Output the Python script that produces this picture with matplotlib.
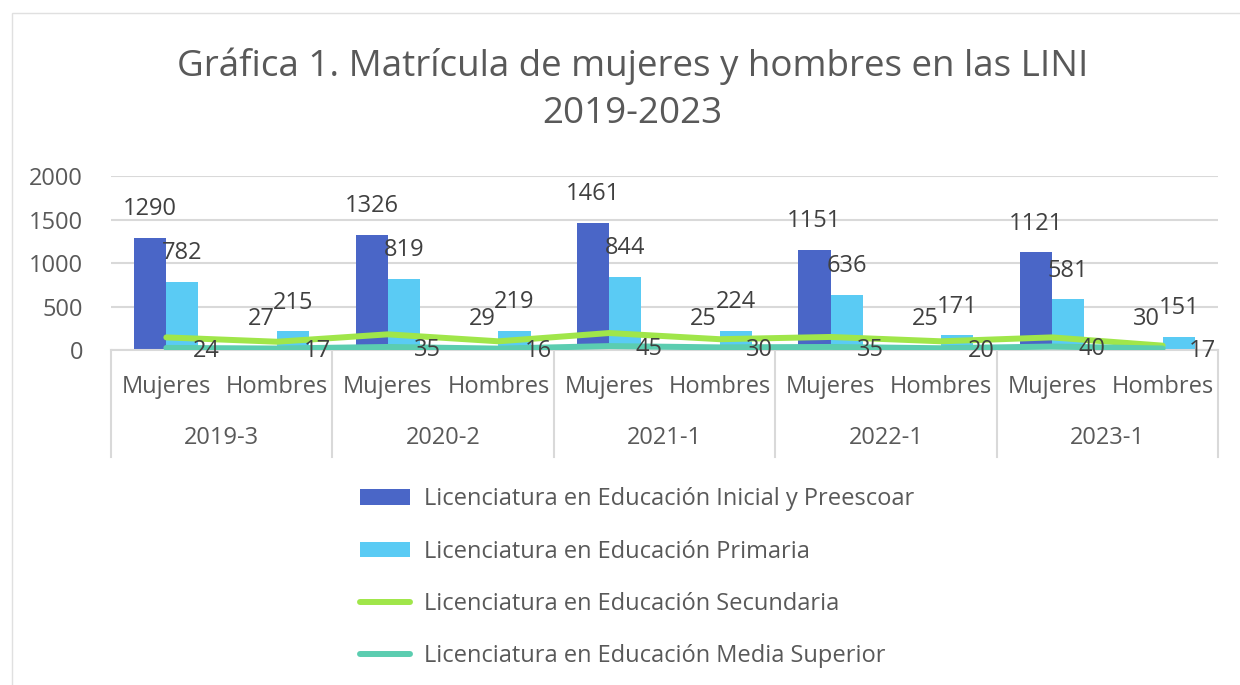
import matplotlib.pyplot as plt
import matplotlib as mpl
import numpy as np
from matplotlib.lines import Line2D
from matplotlib.patches import Rectangle

mpl.rcParams.update({"font.family": ["Open Sans", "DejaVu Sans"]})

# data
periodos = ["2019-3", "2020-2", "2021-1", "2022-1", "2023-1"]
sexos = ["Mujeres", "Hombres"]
inicial = [1290, 27, 1326, 29, 1461, 25, 1151, 25, 1121, 30]
primaria = [782, 215, 819, 219, 844, 224, 636, 171, 581, 151]
secundaria = [145, 95, 180, 100, 195, 124, 150, 100, 145, 50]
media_sup = [24, 17, 35, 16, 45, 30, 35, 20, 40, 17]
series_names = ["Licenciatura en Educación Inicial y Preescoar",
                "Licenciatura en Educación Primaria",
                "Licenciatura en Educación Secundaria",
                "Licenciatura en Educación Media Superior"]

C_INI = "#4A66C7"
C_PRI = "#5ACBF4"
C_SEC = "#A0E64A"
C_MED = "#5BCDB0"
TXT = "#595959"
LBL = "#404040"
GRID = "#D9D9D9"
FS = 17

W, H = 1240, 685
fig = plt.figure(figsize=(W / 100, H / 100), dpi=100)

# chart-area border
fig.patches.append(Rectangle((12 / W, -0.01), 1.02, 1 - 13 / H + 0.01, transform=fig.transFigure,
                             fill=False, ec="#E0E0E0", lw=1))

ax = fig.add_axes([111 / W, 1 - 350 / H, (1218 - 111) / W, (350 - 176) / H])
x = np.arange(len(inicial))
bw = 0.29
b1 = ax.bar(x - bw / 2, inicial, bw, color=C_INI, zorder=2)
b2 = ax.bar(x + bw / 2, primaria, bw, color=C_PRI, zorder=2)
l1, = ax.plot(x, secundaria, color=C_SEC, lw=4.3, solid_capstyle="round", solid_joinstyle="round",
              zorder=3)
l2, = ax.plot(x, media_sup, color=C_MED, lw=4.3, solid_capstyle="round", solid_joinstyle="round",
              zorder=3)

for xi, v in zip(x, inicial):
    ax.annotate(str(v), (xi - bw / 2, v), xytext=(0, 20.5), textcoords="offset points",
                ha="center", va="center", fontsize=FS, color=LBL, zorder=5)
for xi, v in zip(x, primaria):
    ax.annotate(str(v), (xi + bw / 2, v), xytext=(0, 20.5), textcoords="offset points",
                ha="center", va="center", fontsize=FS, color=LBL, zorder=5)
for xi, v in zip(x, media_sup):
    ax.annotate(str(v), (xi, v), xytext=(19, -2), textcoords="offset points",
                ha="left", va="center", fontsize=FS, color=LBL, zorder=5)

ax.set_xlim(-0.5, len(x) - 0.5)
ax.set_ylim(0, 2000)
ax.set_yticks([0, 500, 1000, 1500, 2000])
ax.tick_params(axis="y", length=0, labelsize=FS, labelcolor=TXT, pad=20)
ax.set_xticks([])
ax.grid(axis="y", color=GRID, lw=1.5, zorder=0)
for s in ["top", "right", "left"]:
    ax.spines[s].set_visible(False)
ax.spines["bottom"].set_color(GRID)
ax.spines["bottom"].set_linewidth(1.5)

# multi-level category axis
tr = ax.get_xaxis_transform()
for i, xi in enumerate(x):
    ax.text(xi, -0.213, sexos[i % 2], transform=tr, ha="center", va="center",
            fontsize=FS, color=TXT)
for j, p in enumerate(periodos):
    ax.text(2 * j + 0.5, -0.506, p, transform=tr, ha="center", va="center",
            fontsize=FS, color=TXT)
for b in np.arange(-0.5, len(x), 2):
    ax.add_line(Line2D([b, b], [0, -0.615], transform=tr, color=GRID, lw=1.5, clip_on=False))

fig.text(0.5 * (175 + 1090) / W, 1 - 66 / H, "Gráfica 1. Matrícula de mujeres y hombres en las LINI",
         ha="center", va="center", fontsize=26.5, color=TXT)
fig.text(0.5 * (175 + 1090) / W, 1 - 114 / H, "2019-2023",
         ha="center", va="center", fontsize=26.5, color=TXT)

leg = fig.legend([b1, b2, l1, l2], series_names, loc="upper left",
                 bbox_to_anchor=(339 / W, 1 - 466 / H), ncol=1, frameon=False,
                 fontsize=FS, labelcolor=TXT, handlelength=2.12, handleheight=0.62,
                 handletextpad=0.6, labelspacing=1.2)
for h in leg.legend_handles:
    if isinstance(h, Line2D):
        h.set_solid_capstyle("round")

fig.savefig("out.png", dpi=100)
